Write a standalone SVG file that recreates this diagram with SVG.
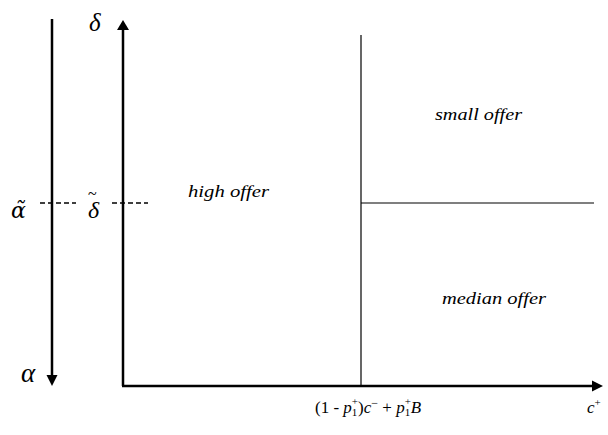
<svg xmlns="http://www.w3.org/2000/svg" width="608" height="435" viewBox="0 0 608 435">
<style>
.ax{stroke:#000;stroke-width:2.5;fill:none}
.ln{stroke:#000;stroke-width:1.2;fill:none}
.dash{stroke:#000;stroke-width:1.3;stroke-dasharray:5,3;fill:none}
</style>
<rect width="608" height="435" fill="#fff"/>
<g id="axes">
<line class="ax" x1="52" y1="19" x2="52" y2="376"/>
<polygon points="46.5,375 57.5,375 52,386"/>
<line class="ax" x1="123" y1="30" x2="123" y2="386"/>
<polygon points="117,30 129,30 123,20"/>
<line class="ax" x1="122" y1="386" x2="592" y2="386"/>
<polygon points="592,380.5 592,391.5 603,386"/>
</g>
<g id="lines">
<line class="ln" x1="361" y1="35" x2="361" y2="386"/>
<line class="ln" x1="361" y1="203" x2="594" y2="203"/>
<line class="dash" x1="40" y1="203" x2="76" y2="203"/>
<line class="dash" x1="112" y1="203" x2="148" y2="203"/>
</g>
<g id="labels" font-family="Liberation Serif, serif" font-style="italic" fill="#000">
<text x="89" y="31" font-size="25">δ</text>
<text x="11" y="218" font-size="22" font-family="DejaVu Serif, serif">α̃</text>
<text x="88" y="218" font-size="24">δ<tspan x="88" dy="-19" font-size="16" font-style="normal">~</tspan></text>
<text x="21" y="382" font-size="27">α</text>
<text x="188" y="197" font-size="16" textLength="81" lengthAdjust="spacingAndGlyphs">high offer</text>
<text x="435" y="120" font-size="16" textLength="87" lengthAdjust="spacingAndGlyphs">small offer</text>
<text x="442" y="304" font-size="16" textLength="104" lengthAdjust="spacingAndGlyphs">median offer</text>
<text font-style="normal" font-size="17" y="413"><tspan x="315">(1 - </tspan><tspan font-style="italic">p</tspan><tspan font-size="11" dy="3">1</tspan><tspan font-size="11" dx="-5.5" dy="-11">+</tspan><tspan dy="8">)</tspan><tspan font-style="italic">c</tspan><tspan font-size="12" dy="-6">−</tspan><tspan dy="6"> + </tspan><tspan font-style="italic">p</tspan><tspan font-size="11" dy="3">1</tspan><tspan font-size="11" dx="-5.5" dy="-11">+</tspan><tspan font-style="italic" dy="8">B</tspan></text>
<text font-style="normal" font-size="17" y="413"><tspan x="587" font-style="italic">c</tspan><tspan font-size="11" dy="-7">+</tspan></text>
</g>
</svg>
